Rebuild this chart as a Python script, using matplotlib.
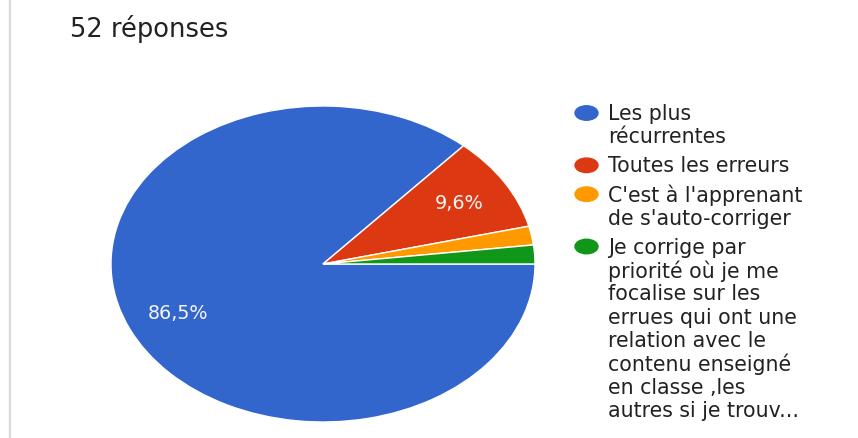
import matplotlib
matplotlib.use("Agg")
import matplotlib.pyplot as plt
from matplotlib.patches import Ellipse

# 52 réponses au total
labels = [
    "Les plus\nrécurrentes",
    "Toutes les erreurs",
    "C'est à l'apprenant\nde s'auto-corriger",
    "Je corrige par\npriorité où je me\nfocalise sur les\nerrues qui ont une\n"
    "relation avec le\ncontenu enseigné\nen classe ,les\nautres si je trouv...",
]
counts = [45, 5, 1, 1]
colors = ["#3366cc", "#dc3912", "#ff9900", "#109618"]
title = "52 réponses"

W, H = 858, 439
fig = plt.figure(figsize=(W / 100, H / 100), dpi=100)
fig.patch.set_facecolor("white")


def pct_label(p):
    # small slices get no label, like the forms summary
    if p < 5:
        return ""
    return f"{p:.1f}%".replace(".", ",")


# pie is drawn slightly stretched, so fill an axes and drop the equal aspect
ax = fig.add_axes([111 / W, (H - 423) / H, 424 / W, 316 / H])
wedges, texts, autotexts = ax.pie(
    counts, colors=colors, startangle=0, counterclock=False,
    autopct=pct_label, pctdistance=0.75,
    wedgeprops=dict(edgecolor="white", linewidth=1.0),
    textprops=dict(color="#f4f4f4", fontsize=13.8),
)
ax.set_aspect("auto")
ax.set_xlim(-1, 1)
ax.set_ylim(-1, 1)

# overlay in pixel units for title, legend and the left rule
ov = fig.add_axes([0, 0, 1, 1], facecolor="none")
ov.set_xlim(0, W)
ov.set_ylim(H, 0)
ov.axis("off")

ov.plot([10, 10], [0, H], color="#dadada", linewidth=1.6)
ov.text(70, 37, title, fontsize=18.5, color="#222222", va="baseline", ha="left")

y = 114
line_h = 23.4
for lab, col in zip(labels, colors):
    ov.add_patch(Ellipse((586.5, y), 23, 14.5, color=col))
    for line in lab.split("\n"):
        ov.text(608, y, line, fontsize=14.8, color="#222222", va="center", ha="left")
        y += line_h
    y += 5.5

fig.savefig("out.png", dpi=100)
